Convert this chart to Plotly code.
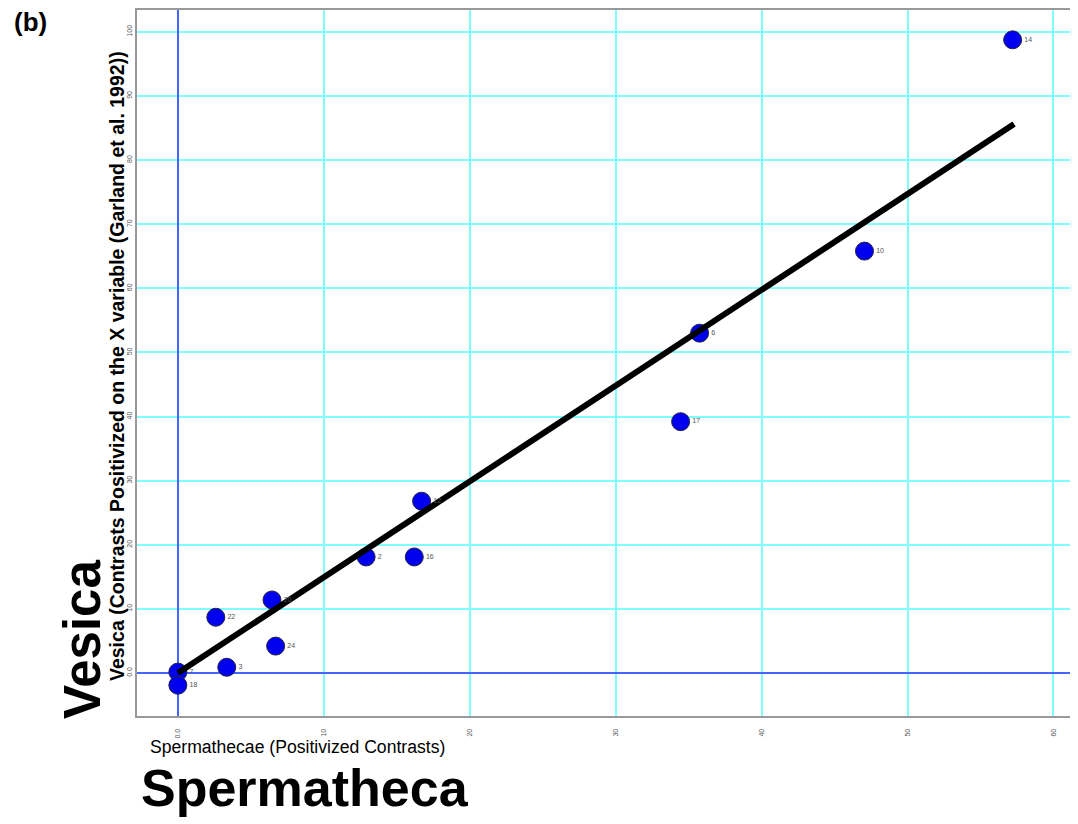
import numpy as np
import plotly.graph_objects as go

# Data
point_labels = ["14", "10", "6", "17", "12", "2", "16", "20", "22", "24", "3", "7", "18"]
spermathecae = [57.2, 47.05, 35.75, 34.45, 16.7, 12.9, 16.2, 6.45, 2.6, 6.7, 3.35, 0.0, 0.0]
vesica = [98.75, 65.8, 53.0, 39.2, 26.8, 18.1, 18.1, 11.4, 8.7, 4.2, 0.9, 0.15, -1.9]

x_tickvals = [0, 10, 20, 30, 40, 50, 60]
x_ticktext = ["0.0", "10", "20", "30", "40", "50", "60"]
y_tickvals = [0, 10, 20, 30, 40, 50, 60, 70, 80, 90, 100]
y_ticktext = ["0.0", "10", "20", "30", "40", "50", "60", "70", "80", "90", "100"]

# Regression through the origin (independent contrasts)
xa = np.array(spermathecae)
ya = np.array(vesica)
slope = float((xa * ya).sum() / (xa * xa).sum())
fit_x = [0.0, float(xa.max()) + 0.1]
fit_y = [slope * v for v in fit_x]

# page body margin offset (browser default)
OFF = 8
W, H = 1078 - OFF, 824 - OFF
l, t = 137 - OFF, 10 - OFF
r = W - (1071 - OFF)
b = H - (716 - OFF)

fig = go.Figure()
fig.add_trace(go.Scatter(
    x=spermathecae, y=vesica, mode="markers",
    marker=dict(size=18, color="#0000ee", line=dict(color="#222244", width=1)),
    showlegend=False, cliponaxis=False,
))
fig.add_trace(go.Scatter(
    x=fit_x, y=fit_y, mode="lines",
    line=dict(color="black", width=6), showlegend=False,
))
fig.add_trace(go.Scatter(
    x=spermathecae, y=vesica, mode="text",
    text=["      " + s for s in point_labels], textposition="middle right",
    textfont=dict(family="Liberation Sans, Arial", size=7, color="#555555"),
    showlegend=False, cliponaxis=False, hoverinfo="skip",
))

fig.update_layout(
    width=W, height=H,
    margin=dict(l=l, r=r, t=t, b=b),
    paper_bgcolor="white", plot_bgcolor="white",
    font=dict(family="Liberation Sans, Arial, sans-serif", color="black"),
)
fig.update_xaxes(
    range=[-2.8, 61.2], tickvals=x_tickvals, ticktext=x_ticktext,
    tickangle=-90, tickfont=dict(size=7, color="#555555"),
    showgrid=True, gridcolor="#80ffff", gridwidth=2,
    zeroline=True, zerolinecolor="#4466ff", zerolinewidth=1.5,
    showline=True, linecolor="#999999", linewidth=2, mirror=True,
    ticks="", ticklabelstandoff=8, automargin=False,
)
fig.update_yaxes(
    range=[-6.7, 103.4], tickvals=y_tickvals, ticktext=y_ticktext,
    tickangle=-90, tickfont=dict(size=7, color="#555555"),
    showgrid=True, gridcolor="#80ffff", gridwidth=2,
    zeroline=True, zerolinecolor="#4466ff", zerolinewidth=1.5,
    showline=True, linecolor="#999999", linewidth=2, mirror=True,
    ticks="", ticklen=0, ticklabelstandoff=0, automargin=False,
)

# annotation positions given in page pixel coords of the reference
ann = [
    dict(text="<b>(b)</b>", px=12, py=22, xanchor="left", yanchor="middle",
         font=dict(size=26, family="Liberation Sans, Arial")),
    dict(text="<b>Vesica (Contrasts Positivized on the X variable (Garland et al. 1992))</b>",
         px=117, py=366, textangle=-90, xanchor="center", yanchor="middle",
         font=dict(size=19.5, family="Liberation Sans, Arial")),
    dict(text="<b>Vesica</b>", px=82, py=640, textangle=-90,
         xanchor="center", yanchor="middle",
         font=dict(size=51, family="Liberation Sans, Arial")),
    dict(text="Spermathecae (Positivized Contrasts)", px=148, py=747,
         xanchor="left", yanchor="middle",
         font=dict(size=17.6, family="Liberation Sans, Arial")),
    dict(text="<b>Spermatheca</b>", px=305, py=788,
         xanchor="center", yanchor="middle",
         font=dict(size=52, family="Liberation Sans, Arial")),
]
pw, ph = W - l - r, H - t - b
for a in ann:
    px = a.pop("px") - OFF
    py = a.pop("py") - OFF
    a["x"] = (px - l) / pw
    a["y"] = 1 - (py - t) / ph
    a.update(xref="paper", yref="paper", showarrow=False)
fig.update_layout(annotations=ann)

fig.write_html("out.html")
